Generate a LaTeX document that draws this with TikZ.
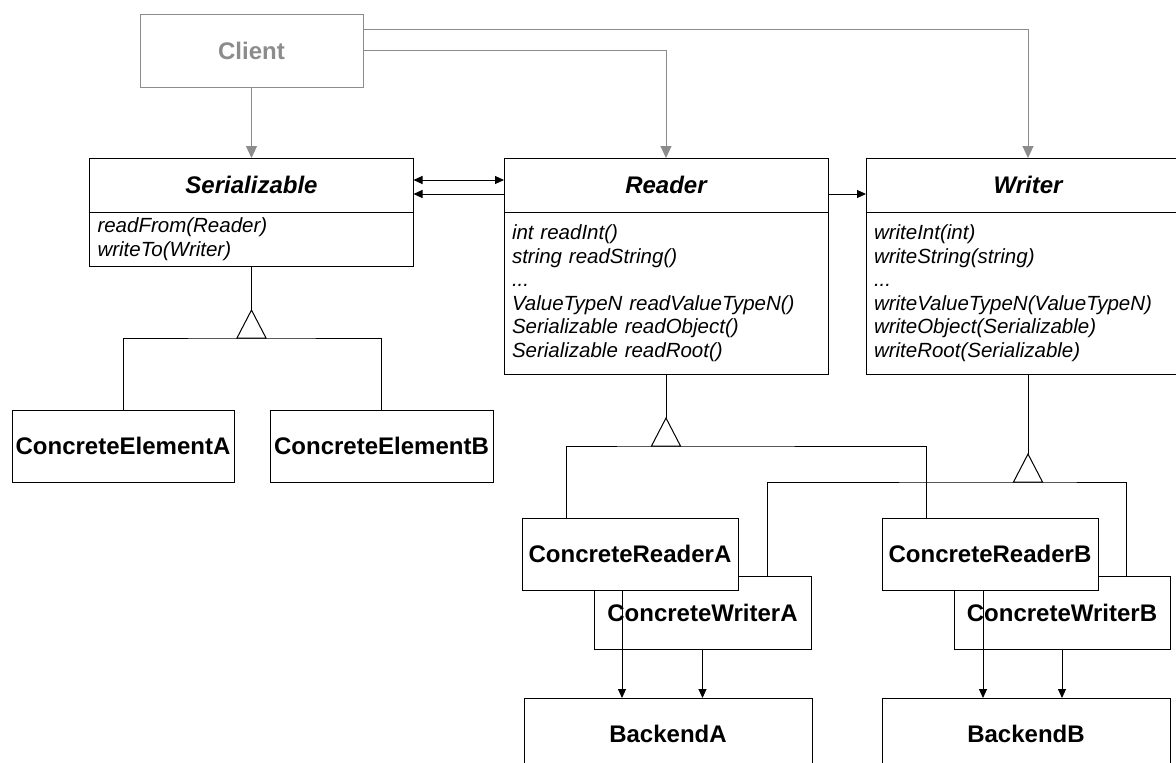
\documentclass[tikz,border=0pt]{standalone}
\usepackage{fontspec}
\setmainfont{Liberation Sans}
\usetikzlibrary{arrows.meta,positioning}
\definecolor{usegray}{HTML}{8C8C8C}
\newcommand\hdrfont{\fontsize{24}{28}\selectfont\bfseries\itshape}
\newcommand\opsfont{\fontsize{20.5}{23.5}\selectfont\itshape}
\newcommand\namefont{\fontsize{24}{28}\selectfont\bfseries}
\begin{document}
\begin{tikzpicture}[x=1pt,y=-1pt,line width=1pt,>={Triangle[length=9pt,width=8pt]},
  hdr/.style={draw,outer sep=0pt,inner sep=0pt,minimum width=324pt,minimum height=54pt,font=\hdrfont},
  ops/.style={draw,outer sep=0pt,inner xsep=8pt,inner ysep=0pt,text width=308pt,align=left,font=\opsfont},
  cls/.style={draw,fill=white,outer sep=0pt,inner sep=0pt,minimum height=72pt,font=\namefont},
  uses/.style={usegray,-{Triangle[length=12pt,width=11pt]}},
  gentip/.style={draw,fill=white}]
\clip (0,0) rectangle (1176,763);
% client and the three abstract classes
\node[cls,draw=usegray,text=usegray,minimum width=223pt,minimum height=73pt] (client) at (251.5,50.5) {Client};
\node[hdr] (serh) at (251.5,185) {Serializable}; \node[ops,minimum height=54pt,below=0pt of serh] (serm) {readFrom(Reader)\\writeTo(Writer)};
\node[hdr] (rdrh) at (666,185) {Reader}; \node[ops,minimum height=162pt,below=0pt of rdrh] (rdrm) {int readInt()\\string readString()\\...\\ValueTypeN readValueTypeN()\\Serializable readObject()\\Serializable readRoot()};
\node[hdr] (wrth) at (1028,185) {Writer}; \node[ops,minimum height=162pt,below=0pt of wrth] (wrtm) {writeInt(int)\\writeString(string)\\...\\writeValueTypeN(ValueTypeN)\\writeObject(Serializable)\\writeRoot(Serializable)};
\draw[uses] (client) -- (serh); \draw[uses] (client.east) -| (rdrh.north); \draw[uses] ([yshift=21.5pt]client.east) -| (wrth.north);
\draw[<->] ([yshift=5pt]serh.east) -- ([yshift=5pt]rdrh.west); \draw[->] ([yshift=-9pt]rdrh.west) -- ([yshift=-9pt]serh.east); \draw[->] ([yshift=-9pt]rdrh.east) -- ([yshift=-9pt]wrth.west);
% concrete classes
\node[cls,minimum width=222pt] (elA) at (123,446) {ConcreteElementA}; \node[cls,minimum width=223pt] (elB) at (381.5,446) {ConcreteElementB};
\node[cls,minimum width=217pt,minimum height=73pt] (wrA) at (702.5,612.5) {ConcreteWriterA}; \node[cls,minimum width=216pt,minimum height=73pt] (wrB) at (1062,612.5) {ConcreteWriterB};
\node[cls,minimum width=216pt] (rdA) at (630,554) {ConcreteReaderA}; \node[cls,minimum width=216pt] (rdB) at (990,554) {ConcreteReaderB};
\node[cls,minimum width=288pt] (bkA) at (668,734) {BackendA}; \node[cls,minimum width=288pt] (bkB) at (1026,734) {BackendB};
% generalizations
\coordinate (serTip) at ([yshift=-44pt]serm.south); \coordinate (serBase) at ([yshift=-28pt]serTip);
\draw (serm.south) -- (serTip); \draw[gentip] (serTip) -- ++(-14.5,28) -- ++(29,0) -- cycle; \draw (elA.north) |- (serBase) -| (elB.north);
\coordinate (rdrTip) at ([yshift=-44pt]rdrm.south); \coordinate (rdrBase) at ([yshift=-28pt]rdrTip);
\draw (rdrm.south) -- (rdrTip); \draw[gentip] (rdrTip) -- ++(-14.5,28) -- ++(29,0) -- cycle; \draw ([xshift=44pt]rdA.north west) |- (rdrBase) -| ([xshift=44pt]rdB.north west);
\coordinate (wrtTip) at ([yshift=-80pt]wrtm.south); \coordinate (wrtBase) at ([yshift=-28pt]wrtTip);
\draw (wrtm.south) -- (wrtTip); \draw[gentip] (wrtTip) -- ++(-14.5,28) -- ++(29,0) -- cycle; \draw ([xshift=-44pt]wrA.north east) |- (wrtBase) -| ([xshift=-44pt]wrB.north east);
% readers and writers use their backend
\coordinate (rA) at ([xshift=100pt]rdA.south west); \coordinate (rB) at ([xshift=101pt]rdB.south west);
\draw[->] (rA) -- (rA |- bkA.north); \draw[->] (wrA.south) -- (wrA.south |- bkA.north);
\draw[->] (rB) -- (rB |- bkB.north); \draw[->] (wrB.south) -- (wrB.south |- bkB.north);
\end{tikzpicture}
\end{document}
